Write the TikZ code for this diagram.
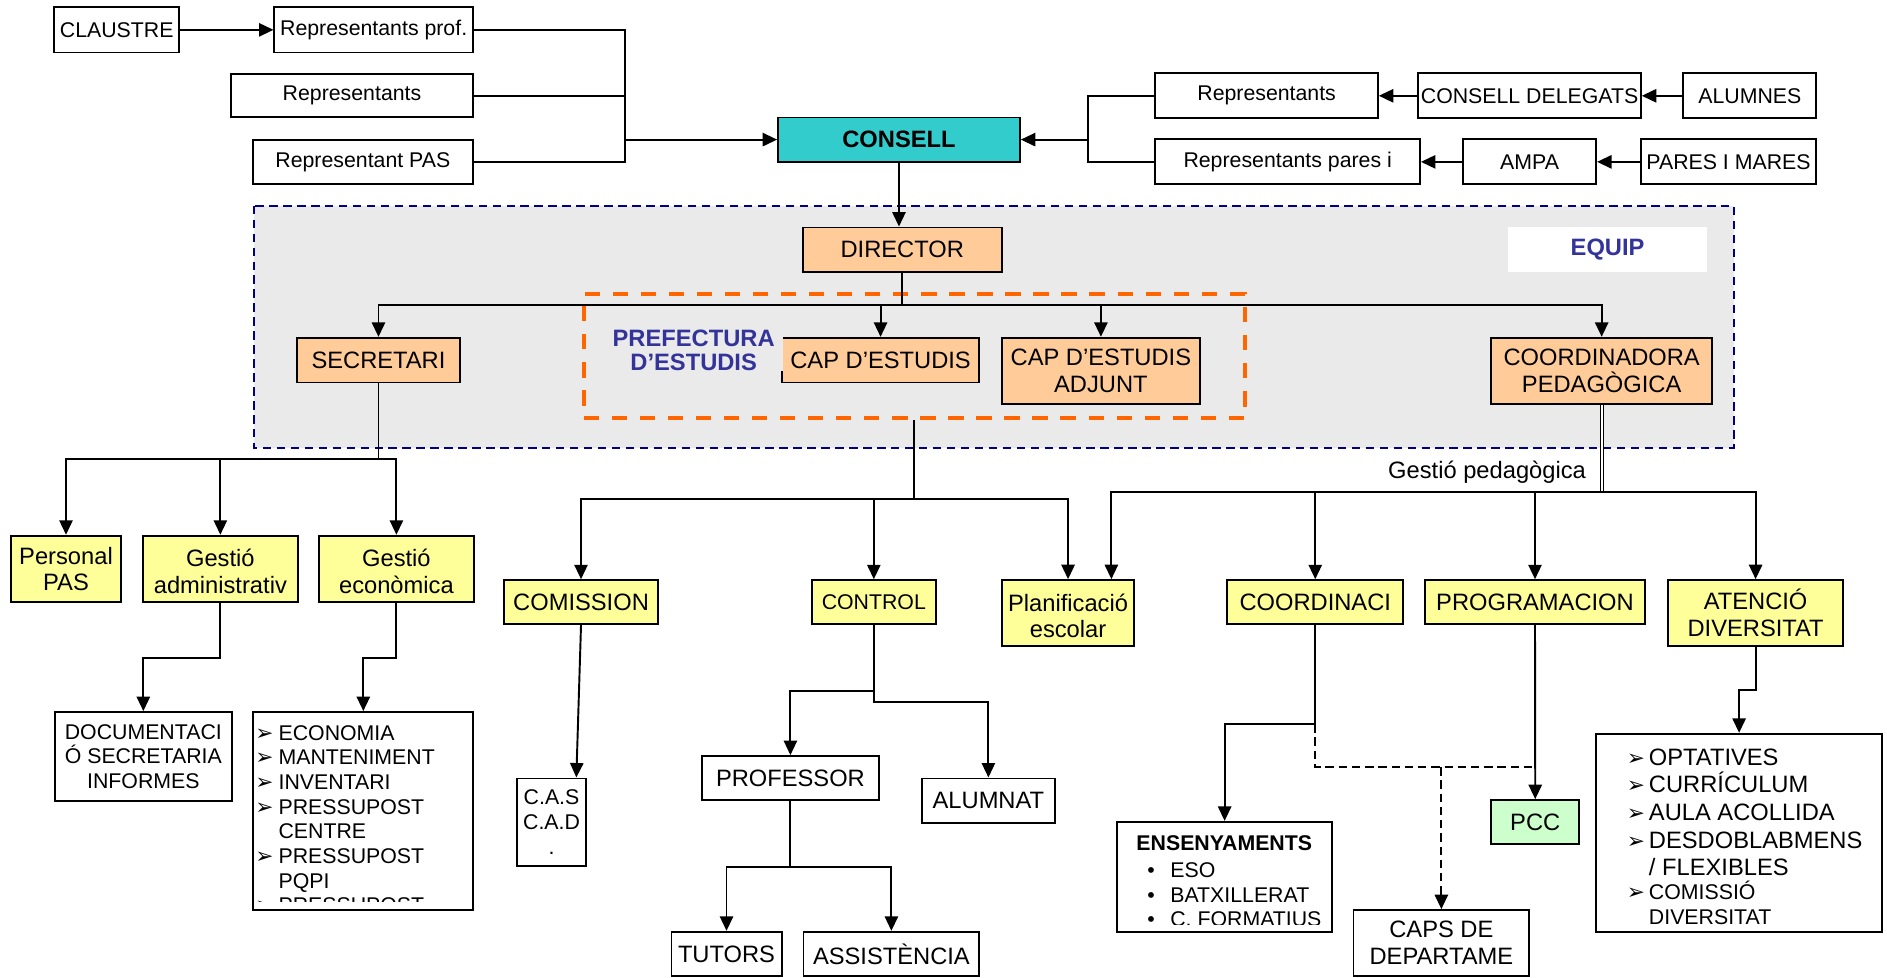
\documentclass[tikz,border=0pt]{standalone}
\usepackage{fontspec}
\setmainfont{Liberation Sans}
\newfontfamily\arrowfnt{DejaVu Sans}
\usetikzlibrary{arrows.meta,calc}

\definecolor{consellteal}{HTML}{33CCCC}
\definecolor{equipgray}{HTML}{EAEAEA}
\definecolor{equipnavy}{HTML}{000080}
\definecolor{labelblue}{HTML}{333399}
\definecolor{equipfill}{HTML}{FFCC99}
\definecolor{areafill}{HTML}{FFFF99}
\definecolor{pccfill}{HTML}{CCFFCC}
\definecolor{prefline}{HTML}{FF6600}

\newcommand{\smallfnt}{\fontsize{17.7}{20.5}\selectfont}
\newcommand{\bigfnt}{\fontsize{19.7}{22.2}\selectfont}
\newcommand{\tipmark}{{\arrowfnt\fontsize{18}{18}\selectfont ➢}}

\begin{document}
\begin{tikzpicture}[x=1pt,y=-1pt,
    box/.style={draw, line width=1.5pt, fill=white, inner sep=0pt, align=center, font=\smallfnt},
    bigbox/.style={box, font=\bigfnt},
    equipbox/.style={bigbox, fill=equipfill},
    areabox/.style={bigbox, fill=areafill},
    link/.style={line width=1.6pt},
    arr/.style={link, -{Triangle[length=12pt,width=11pt]}},
    wh/.style 2 args={minimum width=#1, minimum height=#2}]
  \path[use as bounding box, fill=white] (0,0) rectangle (1568,812);

  \node[box, wh={104}{37.5}] (claustre) at (97,24.8) {CLAUSTRE};
  \node[box, wh={165}{37.5}] (repprof) at (310.5,24.8) {Representants prof.};
  \node[box, wh={201}{36}] (repres) at (292.5,79.5) {Representants};
  \node[box, wh={183}{37}] (reppas) at (301.5,134.5) {Representant PAS};
  \node[box, wh={201}{36.6}, fill=consellteal, font=\bigfnt\bfseries] (consell) at (747,116) {CONSELL};
  \node[box, wh={185}{37.3}] (repalum) at (1052.5,79.6) {Representants};
  \node[box, wh={185}{37.3}] (delegats) at (1271,79.6) {CONSELL DELEGATS};
  \node[box, wh={110.5}{37.3}] (alumnes) at (1454,79.6) {ALUMNES};
  \node[box, wh={220}{37.4}] (reppares) at (1070,134.5) {Representants pares i};
  \node[box, wh={110.7}{37.4}] (ampa) at (1271,134.5) {AMPA};
  \node[box, wh={145.3}{37.4}] (pares) at (1436.3,134.5) {PARES I MARES};

  \coordinate (lbus) at (519,116);
  \coordinate (rbus) at (904,116);
  \draw[arr] (claustre) -- (repprof);
  \draw[link] (repprof.east) -| (lbus);
  \draw[link] (repres.east) -| (lbus);
  \draw[link] (reppas.east) -| (lbus);
  \draw[arr] (lbus) -- (consell.west);
  \draw[link] (repalum.west) -| (rbus);
  \draw[link] (reppares.west) -| (rbus);
  \draw[arr] (rbus) -- (consell.east);
  \draw[arr] (delegats) -- (repalum);
  \draw[arr] (alumnes) -- (delegats);
  \draw[arr] (ampa) -- (reppares);
  \draw[arr] (pares) -- (ampa);

  \draw[fill=equipgray, draw=equipnavy, line width=1.6pt, dash pattern=on 7pt off 4.6pt] (210.7,170.9) rectangle (1440.6,372);
  \node[fill=white, wh={165.6}{37.2}, font=\bigfnt\bfseries, text=labelblue] (equip) at (1335.8,207.2) {EQUIP};
  \node[draw=prefline, line width=3.4pt, dash pattern=on 12.7pt off 10.6pt, wh={549.4}{103}, inner sep=0pt] (pref) at (759.8,296.1) {};

  \node[equipbox, wh={165.4}{37}] (director) at (749.7,207.5) {DIRECTOR};
  \node[equipbox, wh={135.3}{37.1}] (secretari) at (314.5,299.2) {SECRETARI};
  \node[equipbox, wh={163.6}{37.1}] (capest) at (731.7,299.2) {CAP D’ESTUDIS};
  \node[equipbox, wh={164.8}{55.4}] (capadj) at (914.8,308.3) {CAP D’ESTUDIS\\ADJUNT};
  \node[equipbox, wh={183.8}{55.4}] (coord) at (1330.9,308.3) {COORDINADORA\\PEDAGÒGICA};
  \node[font=\fontsize{19.7}{20}\selectfont\bfseries, text=labelblue, align=center, fill=equipgray, inner xsep=7pt, inner ysep=0pt] (preflabel) at (576.4,291.4) {PREFECTURA\\D’ESTUDIS};

  \draw[arr] (consell.south) -- (consell.south |- director.north);
  \coordinate (dirbus) at (749.7,253.2);
  \draw[link] (director) -- (dirbus);
  \foreach \nd in {secretari,capest,capadj,coord}
    \draw[arr] (dirbus) -| (\nd.north);

  \node[areabox, wh={91.9}{55.4}] (perspas) at (54.85,472.8) {Personal\\PAS};
  \node[areabox, wh={128.6}{55.4}] (gadmin) at (183.1,472.8) {};
  \node[areabox, wh={128.5}{55.4}] (gecon) at (329.4,472.8) {};
  \node[areabox, wh={110}{54.8}] (planif) at (887.5,509.4) {};
  \foreach \nd/\one/\two in {gadmin/Gestió/administrativ,gecon/Gestió/econòmica,planif/Planificació/escolar}{
    \begin{scope}
      \clip (\nd.north west) rectangle ([yshift=8pt]\nd.south east);
      \node[font=\bigfnt, anchor=base, inner sep=0pt] (\nd-1) at ($(\nd.north)+(0,26.5)$) {\one};
      \node[font=\bigfnt, anchor=base, inner sep=0pt] (\nd-2) at ($(\nd.north)+(0,48.7)$) {\two};
    \end{scope}
  }
  \node[box, wh={146.8}{73.7}] (doc) at (119.1,628.5) {DOCUMENTACI\\Ó SECRETARIA\\INFORMES};
  \node[box, wh={182.8}{164.6}] (econ) at (301.9,673.9) {};
  \begin{scope}
    \clip (econ.north west) rectangle ([yshift=7.7pt]econ.south east);
    \foreach \mk/\txt [count=\i] in {1/ECONOMIA,1/MANTENIMENT,1/INVENTARI,1/PRESSUPOST,0/CENTRE,1/PRESSUPOST,0/PQPI,1/PRESSUPOST}{
      \node[font=\smallfnt, anchor=base west, inner sep=0pt] (econ-\i) at (231.3,{615.1+20.5*(\i-1)}) {\txt};
      \ifnum\mk=1 \node[anchor=base west, inner sep=0pt] (econmk-\i) at (212,{615.1+20.5*(\i-1)}) {\tipmark}; \fi
    }
  \end{scope}

  \coordinate (secbus) at (314.5,381.4);
  \draw[link] (secretari) -- (secbus);
  \foreach \nd in {perspas,gadmin,gecon}
    \draw[arr] (secbus) -| (\nd.north);
  \draw[arr] (gadmin.south) -- ++(0,45.2) -| (doc.north);
  \draw[arr] (gecon.south) -- ++(0,45.2) -| (econ.north);

  \node[areabox, wh={128.5}{36.5}] (comission) at (482.8,500.3) {COMISSION};
  \node[areabox, wh={103}{36.5}, font=\smallfnt] (control) at (726.1,500.3) {CONTROL};
  \node[box, wh={57.3}{72.8}] (cas) at (458.3,683.2) {C.A.S\\C.A.D\\.};
  \node[bigbox, wh={146.9}{36.8}] (professor) at (656.8,646.6) {PROFESSOR};
  \node[bigbox, wh={110.3}{36.8}] (alumnat) at (821.3,665.2) {ALUMNAT};
  \node[bigbox, wh={91.6}{36.8}] (tutors) at (603.7,792.6) {TUTORS};
  \node[bigbox, wh={146.2}{36.8}] (assist) at (740.7,792.6) {ASSISTÈNCIA};

  \coordinate (prefbus) at (759.8,414.7);
  \draw[link] (pref.south) -- (prefbus);
  \foreach \nd in {comission,control,planif}
    \draw[arr] (prefbus) -| (\nd.north);
  \draw[arr] (comission.south) -- (cas.61);
  \draw[arr] (control.south) -- ++(0,54.9) -| (professor.north);
  \draw[arr] (control.south) -- ++(0,64) -| (alumnat.north);
  \draw[arr] (professor.south) -- ++(0,54.6) -| (tutors.north);
  \draw[arr] (professor.south) -- ++(0,54.6) -| (assist.north);

  \node[areabox, wh={146.2}{36.5}] (coordinaci) at (1092.9,500.3) {COORDINACI};
  \node[areabox, wh={183}{36.5}] (program) at (1275.5,500.3) {PROGRAMACION};
  \node[areabox, wh={145.9}{54.8}] (atencio) at (1458.8,509.4) {ATENCIÓ\\DIVERSITAT};
  \node[bigbox, wh={73.1}{36.8}, fill=pccfill] (pcc) at (1275.7,683.2) {PCC};
  \node[bigbox, wh={146.2}{54.8}] (caps) at (1197.7,783.6) {CAPS DE\\DEPARTAME};
  \node[box, wh={178.8}{91.9}] (ensenya) at (1017.6,728.8) {};
  \begin{scope}
    \clip (ensenya.north west) rectangle ([yshift=7.4pt]ensenya.south east);
    \node[font=\smallfnt\bfseries, anchor=base, inner sep=0pt] (ensenya-0) at (1017.3,706.6) {ENSENYAMENTS};
    \foreach \txt [count=\i] in {ESO,BATXILLERAT,C. FORMATIUS}{
      \node[font=\smallfnt, anchor=base west, inner sep=0pt] (ensenya-\i) at (972.3,{709+20.3*\i}) {\txt};
      \node[font=\smallfnt, anchor=base, inner sep=0pt] (ensdot-\i) at (956.5,{709+20.3*\i}) {•};
    }
  \end{scope}
  \node[box, wh={237.4}{165}] (divlist) at (1445.1,692.2) {};
  \begin{scope}
    \clip (divlist.north west) rectangle ([yshift=7.4pt]divlist.south east);
    \foreach \txt [count=\i] in {OPTATIVES,CURRÍCULUM,AULA ACOLLIDA,DESDOBLABMENS}{
      \node[font=\bigfnt, anchor=base west, inner sep=0pt] (div-\i) at (1370,{635.8+23*(\i-1)}) {\txt};
      \node[anchor=base west, inner sep=0pt] (divmk-\i) at (1351.7,{635.8+23*(\i-1)}) {\tipmark};
    }
    \node[font=\bigfnt, anchor=base west, inner sep=0pt] (div-5) at (1370,727.2) {/ FLEXIBLES};
    \node[font=\smallfnt, anchor=base west, inner sep=0pt] (div-6) at (1370,747.8) {COMISSIÓ};
    \node[anchor=base west, inner sep=0pt] (divmk-6) at (1351.7,747.8) {\tipmark};
    \node[font=\smallfnt, anchor=base west, inner sep=0pt] (div-7) at (1370,768.1) {DIVERSITAT};
  \end{scope}

  \coordinate (pedbus) at (1330.9,408.6);
  \draw[double, double distance=1.8pt, line width=0.9pt] (coord.south) -- (pedbus);
  \node[font=\bigfnt, anchor=base east, inner sep=0pt] (pedlabel) at (1318,397.5) {Gestió pedagògica};
  \draw[arr] (pedbus) -| ($(planif.north)+(36,0)$);
  \foreach \nd in {coordinaci,program,atencio}
    \draw[arr] (pedbus) -| (\nd.north);
  \draw[arr] (coordinaci.south) -- ++(0,82.5) -| (ensenya.north);
  \coordinate (deptjoin) at (1197.7,637.4);
  \draw[link, dash pattern=on 7pt off 4pt] ($(coordinaci.south)+(0,82.5)$) |- (deptjoin) -- (deptjoin -| program.south);
  \draw[arr, dash pattern=on 7pt off 4pt] (deptjoin) -- (caps.north);
  \draw[arr] (program.south) -- (pcc.north);
  \draw[arr] (atencio.south) -- ++(0,36) -| (divlist.north);
\end{tikzpicture}
\end{document}
